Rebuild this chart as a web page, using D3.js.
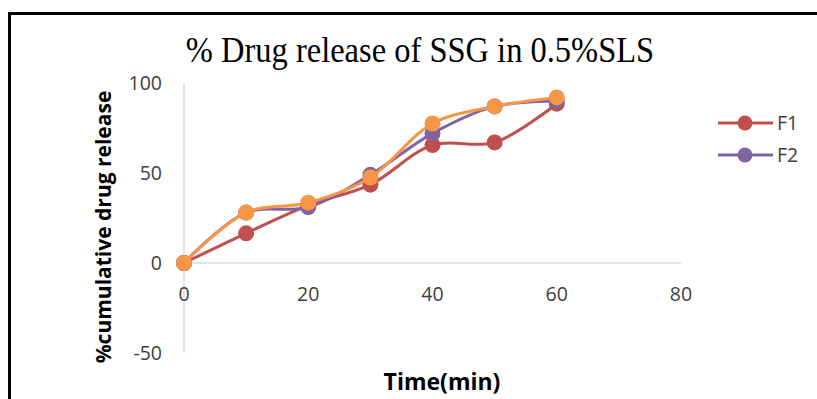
<!DOCTYPE html>
<html>
<head>
<meta charset="utf-8">
<script src="https://cdn.jsdelivr.net/npm/d3@7"></script>
<style>
  html, body { margin: 0; padding: 0; background: #fff; }
  svg { display: block; }
</style>
</head>
<body>
<svg id="chart" width="817" height="399"></svg>
<script>
// Dissolution time points (min) and % cumulative drug release per formulation
const timePoints = [0, 10, 20, 30, 40, 50, 60];
const seriesNames = ["F1", "F2", "F3"];
const f1Values = [0, 16.5, 32, 43.5, 65.5, 67, 88.5];
const f2Values = [0, 28, 31, 49, 72, 87, 90];
const f3Values = [0, 28, 33.5, 47.5, 77.5, 87, 92];
const seriesColors = ["#C0504D", "#8064A2", "#F79646"];
const legendNames = ["F1", "F2"];
const xTicks = [0, 20, 40, 60, 80];
const yTicks = [-50, 0, 50, 100];

const svg = d3.select("#chart");

// Outer frame
svg.append("rect")
  .attr("x", 9.5).attr("y", 13.5)
  .attr("width", 830).attr("height", 420)
  .attr("fill", "none").attr("stroke", "#000").attr("stroke-width", 3);

const x = d3.scaleLinear().domain([0, 80]).range([184, 681]);
const y = d3.scaleLinear().domain([-50, 100]).range([353, 83]);

// Title
svg.append("text")
  .attr("transform", "translate(420,62) scale(1,1.08)")
  .attr("text-anchor", "middle")
  .attr("font-family", "'Liberation Serif', 'Times New Roman', serif")
  .attr("font-size", 32.5)
  .attr("fill", "#000")
  .text("% Drug release of SSG in 0.5%SLS");

// Axes lines
const axisColor = "#D9D9D9";
svg.append("line")
  .attr("x1", x(0)).attr("x2", x(0))
  .attr("y1", y(100)).attr("y2", y(-50))
  .attr("stroke", axisColor).attr("stroke-width", 1.3);
svg.append("line")
  .attr("x1", x(0)).attr("x2", x(80))
  .attr("y1", y(0)).attr("y2", y(0))
  .attr("stroke", axisColor).attr("stroke-width", 1.3);

const tickFont = "'Open Sans', 'Liberation Sans', sans-serif";

// Y tick labels
svg.append("g").selectAll("text")
  .data(yTicks).join("text")
  .attr("x", 162)
  .attr("y", d => y(d))
  .attr("dy", "0.36em")
  .attr("text-anchor", "end")
  .attr("font-family", tickFont)
  .attr("font-size", 19.5)
  .attr("fill", "#404040")
  .text(d => d);

// X tick labels
svg.append("g").selectAll("text")
  .data(xTicks).join("text")
  .attr("x", d => x(d))
  .attr("y", 294)
  .attr("dy", "0.36em")
  .attr("text-anchor", "middle")
  .attr("font-family", tickFont)
  .attr("font-size", 19.5)
  .attr("fill", "#404040")
  .text(d => d);

// Axis titles
svg.append("text")
  .attr("transform", "translate(111,227) rotate(-90)")
  .attr("text-anchor", "middle")
  .attr("font-family", tickFont)
  .attr("font-weight", "bold")
  .attr("font-size", 21)
  .attr("fill", "#000")
  .text("%cumulative drug release");

svg.append("text")
  .attr("x", 442).attr("y", 390)
  .attr("text-anchor", "middle")
  .attr("font-family", tickFont)
  .attr("font-weight", "bold")
  .attr("font-size", 23)
  .attr("fill", "#000")
  .text("Time(min)");

// Series
const allValues = [f1Values, f2Values, f3Values];
const series = seriesNames.map((name, i) => ({
  name,
  color: seriesColors[i],
  points: timePoints.map((t, j) => ({ t, v: allValues[i][j] }))
}));

const line = d3.line()
  .x(d => x(d.t))
  .y(d => y(d.v))
  .curve(d3.curveCatmullRom.alpha(0.5));

const g = svg.append("g");
series.forEach(s => {
  g.append("path")
    .datum(s.points)
    .attr("d", line)
    .attr("fill", "none")
    .attr("stroke", s.color)
    .attr("stroke-width", 3)
    .attr("stroke-linejoin", "round");
  g.selectAll(null)
    .data(s.points).join("circle")
    .attr("cx", d => x(d.t))
    .attr("cy", d => y(d.v))
    .attr("r", 8)
    .attr("fill", s.color);
});

// Legend
const legend = svg.append("g");
legendNames.forEach((name, i) => {
  const ly = 123 + i * 32;
  const color = seriesColors[seriesNames.indexOf(name)];
  legend.append("line")
    .attr("x1", 718).attr("x2", 773)
    .attr("y1", ly).attr("y2", ly)
    .attr("stroke", color).attr("stroke-width", 3);
  legend.append("circle")
    .attr("cx", 745).attr("cy", ly).attr("r", 7.5).attr("fill", color);
  legend.append("text")
    .attr("x", 777).attr("y", ly)
    .attr("dy", "0.36em")
    .attr("font-family", tickFont)
    .attr("font-size", 19.5)
    .attr("fill", "#404040")
    .text(name);
});
</script>
</body>
</html>
